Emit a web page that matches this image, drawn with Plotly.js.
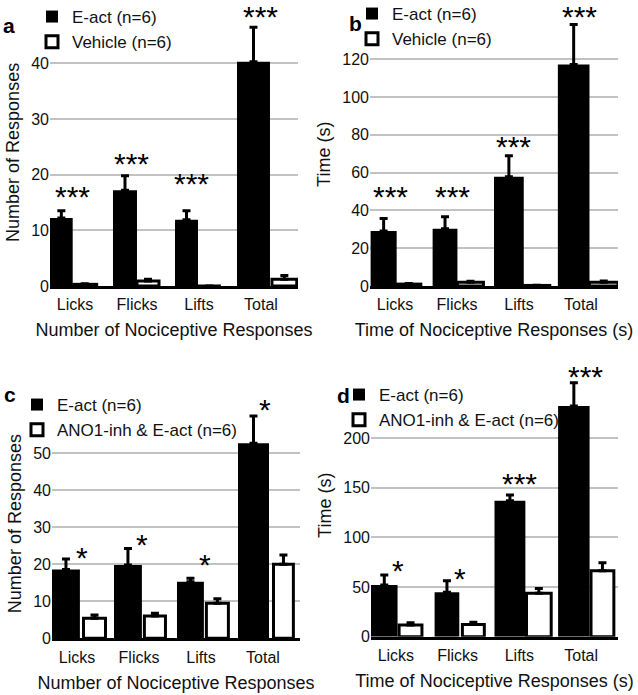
<!DOCTYPE html>
<html>
<head>
<meta charset="utf-8">
<script src="https://cdn.plot.ly/plotly-3.0.1.min.js"></script>
<style>html,body{margin:0;padding:0;background:#fff;}#chart{width:638px;height:695px;}</style>
</head>
<body>
<div id="chart"></div>
<script>
// ---------------- DATA ----------------
const categories = ["Licks", "Flicks", "Lifts", "Total"];

// Panel a: Number of responses, E-act vs Vehicle
const aEactMean = [12.2, 17.2, 11.9, 40.3];
const aEactErr  = [1.3, 2.6, 1.6, 6.2];
const aVehMean  = [0.3, 0.9, 0.0, 1.2];
const aVehErr   = [0.1, 0.3, 0.0, 0.7];
const aStars    = ["***", "***", "***", "***"];
const aTicks    = [0, 10, 20, 30, 40];

// Panel b: Time (s), E-act vs Vehicle
const bEactMean = [29.1, 30.3, 57.8, 117.3];
const bEactErr  = [6.7, 6.4, 11.2, 21.1];
const bVehMean  = [1.0, 2.0, 0.3, 2.0];
const bVehErr   = [0.3, 0.5, 0.1, 0.6];
const bStars    = ["***", "***", "***", "***"];
const bTicks    = [0, 20, 40, 60, 80, 100, 120];

// Panel c: Number of responses, E-act vs ANO1-inh & E-act
const cEactMean = [18.6, 19.8, 15.3, 52.7];
const cEactErr  = [2.8, 4.5, 0.9, 7.4];
const cInhMean  = [5.4, 6.0, 9.5, 20.0];
const cInhErr   = [0.9, 0.8, 1.2, 2.5];
const cStars    = ["*", "*", "*", "*"];
const cTicks    = [0, 10, 20, 30, 40, 50];

// Panel d: Time (s), E-act vs ANO1-inh & E-act
const dEactMean = [52.1, 44.7, 137.1, 232.6];
const dEactErr  = [10.1, 11.8, 5.8, 23.5];
const dInhMean  = [11.8, 12.4, 43.7, 66.6];
const dInhErr   = [2.3, 2.1, 5.0, 8.0];
const dStars    = ["*", "*", "***", "***"];
const dTicks    = [0, 50, 100, 150, 200];

const nameEact = "E-act (n=6)";
const nameVeh  = "Vehicle (n=6)";
const nameInh  = "ANO1-inh &amp; E-act (n=6)";

// ---------------- STYLE / GEOMETRY ----------------
const FONT = "Liberation Sans, Arial, Helvetica, sans-serif";
const W = 638, H = 695;
const px = v => v / W;
const py = v => 1 - v / H;

const panels = [
  { id: "a", ax: "", eM: aEactMean, eE: aEactErr, vM: aVehMean, vE: aVehErr, vName: nameVeh,
    stars: aStars, ticks: aTicks, range: [0, 48],
    xd: [50, 298], yd: [286, 18.8],
    eStart: [0.0, 0.016, 0.016, 0.016], eW: [0.366, 0.387, 0.371, 0.532],
    vStart: [0.366, 0.403, 0.387, 0.58], vW: [0.387, 0.355, 0.37, 0.40],
    starDx: [-8.5, -12, -14, -7], starGap: [21, 19, 34, 17],
    ytitle: "Number of Responses", xtitle: "Number of Nociceptive Responses",
    letter: [9, 25], legend: [32, -1] },
  { id: "b", ax: "2", eM: bEactMean, eE: bEactErr, vM: bVehMean, vE: bVehErr, vName: nameVeh,
    stars: bStars, ticks: bTicks, range: [0, 139.5],
    xd: [370, 618], yd: [286, 22.5],
    eStart: [0.01, 0.01, 0.0, 0.03], eW: [0.42, 0.40, 0.48, 0.51],
    vStart: [0.43, 0.41, 0.48, 0.54], vW: [0.39, 0.42, 0.42, 0.46],
    starDx: [-11, -11, -11.5, -8], starGap: [28, 26.7, 15.7, 14.5],
    ytitle: "Time (s)", xtitle: "Time of Nociceptive Responses (s)",
    letter: [355, 24], legend: [352, -4] },
  { id: "c", ax: "3", eM: cEactMean, eE: cEactErr, vM: cInhMean, vE: cInhErr, vName: nameInh,
    stars: cStars, ticks: cTicks, range: [0, 62],
    xd: [52, 300], yd: [638.3, 408.9],
    eStart: [0.0, 0.0, 0.016, 0.0], eW: [0.45, 0.45, 0.434, 0.5],
    vStart: [0.508, 0.49, 0.49, 0.573], vW: [0.355, 0.34, 0.355, 0.32],
    starDx: [-1.5, -3, -2.5, -4], starGap: [8, 10.4, 20, 13],
    ytitle: "Number of Responses", xtitle: "Number of Nociceptive Responses",
    letter: [10, 394], legend: [17, 387] },
  { id: "d", ax: "4", eM: dEactMean, eE: dEactErr, vM: dInhMean, vE: dInhErr, vName: nameInh,
    stars: dStars, ticks: dTicks, range: [0, 265],
    xd: [371, 618], yd: [636.7, 373.8],
    eStart: [0.0, 0.03, 0.0, 0.03], eW: [0.43, 0.40, 0.50, 0.51],
    vStart: [0.455, 0.48, 0.518, 0.563], vW: [0.37, 0.355, 0.40, 0.37],
    starDx: [-4, -3.5, -6, -1.5], starGap: [11, 8.6, 18, 12.7],
    ytitle: "Time (s)", xtitle: "Time of Nociceptive Responses (s)",
    letter: [343, 395], legend: [339, 377] }
];

const traces = [];
const layout = {
  width: W, height: H,
  margin: { l: 0, r: 0, t: 0, b: 0, autoexpand: false },
  paper_bgcolor: "#fff", plot_bgcolor: "rgba(0,0,0,0)",
  font: { family: FONT, color: "#111", size: 16 },
  showlegend: true,
  annotations: [], shapes: []
};

const STAR_CORR = 6.5; // asterisk glyph sits above the text box centre

panels.forEach((p, k) => {
  const xa = "x" + p.ax, ya = "y" + p.ax;
  const legendId = k === 0 ? "legend" : "legend" + (k + 1);
  traces.push({
    type: "bar", name: nameEact, x: categories, y: p.eM,
    xaxis: xa, yaxis: ya, legend: legendId,
    offset: p.eStart.map(s => s - 0.5), width: p.eW,
    marker: { color: "#000", line: { color: "#000", width: 0 } },
    error_y: { type: "data", symmetric: false, array: p.eE, arrayminus: p.eE.map(() => 0),
               color: "#000", thickness: 3, width: 4 },
    hoverinfo: "x+y"
  });
  traces.push({
    type: "bar", name: p.vName, x: categories, y: p.vM,
    xaxis: xa, yaxis: ya, legend: legendId,
    offset: p.vStart.map(s => s - 0.5), width: p.vW,
    marker: { color: "#fff", line: { color: "#000", width: 3 } },
    error_y: { type: "data", symmetric: false, array: p.vE, arrayminus: p.vE.map(() => 0),
               color: "#000", thickness: 3, width: 4 },
    hoverinfo: "x+y"
  });

  layout["xaxis" + p.ax] = {
    type: "category", domain: [px(p.xd[0]), px(p.xd[1])], anchor: ya,
    range: [-0.5, categories.length - 0.5], fixedrange: true, automargin: false,
    showline: true, linecolor: "#000", linewidth: 3,
    showgrid: false, zeroline: false, ticks: "",
    tickfont: { size: 16, color: "#111" }, ticklabelshift: -6, ticklabelstandoff: 2,
    title: { text: p.xtitle, font: { size: 18, color: "#111" }, standoff: 12 }
  };
  layout["yaxis" + p.ax] = {
    domain: [py(p.yd[0]), py(p.yd[1])], anchor: xa,
    range: p.range, fixedrange: true, automargin: false,
    tickvals: p.ticks, ticktext: p.ticks.map(String),
    showgrid: true, gridcolor: "#c2c2c2", gridwidth: 2,
    showline: false, zeroline: false, ticks: "",
    tickfont: { size: 16, color: "#111" },
    title: { text: p.ytitle, font: { size: 18, color: "#111" }, standoff: 6 }
  };
  layout[legendId] = {
    x: px(p.legend[0]), y: py(p.legend[1]), xanchor: "left", yanchor: "top",
    bgcolor: "rgba(0,0,0,0)", borderwidth: 0,
    font: { size: 17, color: "#111" }, traceorder: "normal", tracegroupgap: 0
  };

  // category dividers below the axis
  for (let i = 0; i <= categories.length; i++) {
    layout.shapes.push({
      type: "line", xref: xa, yref: ya, x0: i - 0.5, x1: i - 0.5,
      ysizemode: "pixel", yanchor: 0, y0: 0, y1: -27,
      line: { color: "#8a8a8a", width: 2 }
    });
  }

  // significance stars
  p.stars.forEach((s, i) => {
    layout.annotations.push({
      xref: xa, yref: ya, x: i, y: p.eM[i] + p.eE[i],
      text: s, showarrow: false, xanchor: "center", yanchor: "middle",
      xshift: p.starDx[i], yshift: p.starGap[i] - STAR_CORR,
      font: { size: 30, color: "#000", family: FONT }
    });
  });

  // panel letter
  layout.annotations.push({
    xref: "paper", yref: "paper", x: px(p.letter[0]), y: py(p.letter[1]),
    text: "<b>" + p.id + "</b>", showarrow: false, xanchor: "center", yanchor: "middle",
    font: { size: 21, color: "#000", family: FONT }
  });
});

Plotly.newPlot("chart", traces, layout, { staticPlot: true, displayModeBar: false });
</script>
</body>
</html>
